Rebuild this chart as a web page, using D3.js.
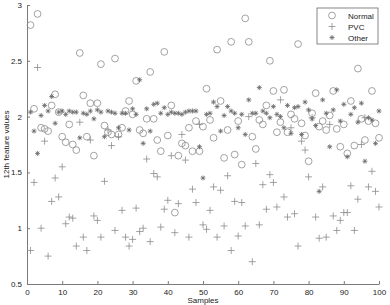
<!DOCTYPE html>
<html>
<head>
<meta charset="utf-8">
<script src="https://cdn.jsdelivr.net/npm/d3@7"></script>
<style>
  body { margin: 0; background: #fff; }
  text { font-family: "Liberation Sans", Arial, sans-serif; }
</style>
</head>
<body>
<svg id="chart"></svg>
<script>
// --- data (samples 1..100) ---
const samples = d3.range(1, 101);

const normal = [
  2.82, 2.07, 2.92, 1.90, 1.89, 1.87, 2.10, 2.20, 2.04, 1.82,
  1.77, 1.93, 1.75, 1.70, 2.57, 2.19, 1.82, 2.12, 1.65, 2.12,
  2.47, 1.92, 1.86, 1.84, 2.52, 1.84, 1.90, 2.05, 2.14, 2.02,
  2.32, 1.88, 1.85, 1.98, 2.40, 1.98, 1.79, 1.69, 2.58, 1.83,
  2.10, 1.14, 1.65, 1.76, 1.74, 1.90, 1.69, 1.96, 1.69, 1.91,
  2.25, 1.97, 1.81, 2.60, 2.14, 1.63, 1.88, 2.67, 1.66, 1.96,
  1.57, 2.88, 2.67, 1.82, 1.71, 1.97, 1.93, 2.10, 2.50, 2.23,
  1.86, 1.95, 2.24, 1.86, 2.02, 1.98, 2.65, 1.94, 1.83, 1.60,
  2.03, 2.21, 1.91, 1.96, 1.88, 2.01, 2.23, 1.89, 1.73, 1.93,
  1.67, 2.14, 1.74, 2.43, 1.98, 1.79, 1.96, 2.23, 1.94, 1.81
];

const pvc = [
  0.80, 1.41, 2.44, 1.00, 1.78, 0.75, 1.24, 1.45, 1.28, 1.55,
  1.04, 1.10, 1.09, 0.84, 1.95, 0.92, 0.80, 1.79, 1.11, 1.07,
  0.92, 1.42, 1.88, 1.74, 0.98, 1.82, 1.16, 0.92, 0.84, 0.90,
  1.18, 0.97, 1.00, 1.62, 0.88, 1.49, 1.46, 1.01, 1.17, 1.25,
  1.65, 0.96, 1.22, 1.84, 1.61, 0.92, 1.35, 1.23, 1.93, 1.03,
  0.99, 1.16, 1.37, 0.92, 1.34, 1.02, 1.47, 0.80, 1.24, 0.93,
  1.23, 1.02, 2.00, 0.70, 1.58, 1.03, 1.39, 1.17, 1.48, 1.41,
  1.19, 2.15, 1.28, 1.10, 1.90, 1.13, 0.84, 1.78, 1.70, 1.46,
  1.99, 1.10, 0.91, 1.37, 0.92, 1.93, 1.11, 0.98, 1.07, 1.14,
  1.14, 1.38, 0.98, 1.26, 1.75, 1.99, 1.37, 1.51, 1.33, 1.19
];

const other = [
  2.04, 1.87, 1.67, 2.01, 2.10, 2.05, 2.18, 1.94, 2.04, 2.05,
  2.02, 2.05, 2.04, 2.04, 1.81, 2.03, 2.02, 2.05, 1.98, 2.06,
  2.04, 1.82, 2.05, 2.04, 2.03, 1.90, 2.03, 2.03, 1.88, 2.07,
  2.02, 2.33, 1.76, 2.07, 1.87, 2.11, 2.12, 2.03, 2.08, 2.02,
  2.04, 2.03, 2.03, 2.02, 2.04, 2.05, 2.05, 2.05, 1.73, 1.45,
  2.02, 2.03, 2.13, 2.09, 1.87, 2.01, 2.09, 2.05, 2.03, 1.90,
  2.02, 1.84, 2.15, 2.03, 2.03, 2.26, 2.05, 2.03, 1.99, 2.09,
  2.02, 2.00, 1.90, 2.10, 1.85, 2.08, 2.09, 1.84, 2.13, 2.06,
  1.98, 1.92, 1.33, 2.15, 2.03, 1.73, 2.06, 2.24, 1.96, 2.11,
  1.64, 2.02, 2.08, 1.95, 2.12, 1.60, 1.99, 1.97, 1.76, 2.05
];

const xTicks = d3.range(0, 101, 10);
const yTicks = [0.5, 1, 1.5, 2, 2.5, 3];
const seriesNames = ["Normal", "PVC", "Other"];

// --- layout ---
const width = 390, height = 305;
const margin = { top: 5, right: 11, bottom: 21, left: 27 };

const svg = d3.select("#chart")
  .attr("width", width)
  .attr("height", height);

const x = d3.scaleLinear().domain([0, 100]).range([margin.left, width - margin.right]);
const y = d3.scaleLinear().domain([0.5, 3]).range([height - margin.bottom, margin.top]);

const axisColor = "#7a7a7a";
const markColor = "#8c8c8c";

// axes (ticks point inward, like the original)
const xAxis = svg.append("g")
  .attr("transform", `translate(0,${height - margin.bottom})`)
  .call(d3.axisBottom(x).tickValues(xTicks).tickSizeInner(-3).tickSizeOuter(0).tickPadding(5));
const yAxis = svg.append("g")
  .attr("transform", `translate(${margin.left},0)`)
  .call(d3.axisLeft(y).tickValues(yTicks).tickSizeInner(-3).tickSizeOuter(0).tickPadding(5)
    .tickFormat(d3.format("")));

[xAxis, yAxis].forEach(g => {
  g.select(".domain").attr("stroke", axisColor);
  g.selectAll(".tick line").attr("stroke", axisColor);
  g.selectAll(".tick text").attr("fill", "#222").style("font-size", "8px");
});

// axis titles
svg.append("text")
  .attr("x", (x(0) + x(100)) / 2)
  .attr("y", height - 2)
  .attr("text-anchor", "middle")
  .style("font-size", "8px")
  .attr("fill", "#222")
  .text("Samples");

svg.append("text")
  .attr("transform", `translate(9,${(y(0.5) + y(3)) / 2}) rotate(-90)`)
  .attr("text-anchor", "middle")
  .style("font-size", "8px")
  .attr("fill", "#222")
  .text("12th feature values");

// marker shapes
const circle = (g, cx, cy) => g.append("circle")
  .attr("cx", cx).attr("cy", cy).attr("r", 3.4)
  .attr("fill", "none").attr("stroke", markColor).attr("stroke-width", 0.8);

const plus = (g, cx, cy) => g.append("path")
  .attr("d", `M${cx - 3.5},${cy}H${cx + 3.5}M${cx},${cy - 3.5}V${cy + 3.5}`)
  .attr("stroke", markColor).attr("stroke-width", 0.8).attr("fill", "none");

const star = (g, cx, cy) => g.append("path")
  .attr("d", `M${cx - 2.5},${cy}H${cx + 2.5}M${cx},${cy - 2.5}V${cy + 2.5}` +
    `M${cx - 1.8},${cy - 1.8}L${cx + 1.8},${cy + 1.8}M${cx - 1.8},${cy + 1.8}L${cx + 1.8},${cy - 1.8}`)
  .attr("stroke", "#666").attr("stroke-width", 0.8).attr("fill", "none");

const plot = svg.append("g");
const gN = plot.append("g"), gP = plot.append("g"), gO = plot.append("g");
samples.forEach((s, i) => {
  circle(gN, x(s), y(normal[i]));
  plus(gP, x(s), y(pvc[i]));
  star(gO, x(s), y(other[i]));
});

// legend
const lg = svg.append("g").attr("transform", "translate(317,8)");
lg.append("rect")
  .attr("width", 61).attr("height", 36)
  .attr("fill", "#fff").attr("stroke", "#555").attr("stroke-width", 0.7);
const markers = [circle, plus, star];
seriesNames.forEach((name, i) => {
  const cy = 7.5 + i * 11;
  markers[i](lg, 15, cy);
  lg.append("text")
    .attr("x", 31).attr("y", cy + 3)
    .style("font-size", "8px")
    .attr("fill", "#222")
    .text(name);
});
</script>
</body>
</html>
